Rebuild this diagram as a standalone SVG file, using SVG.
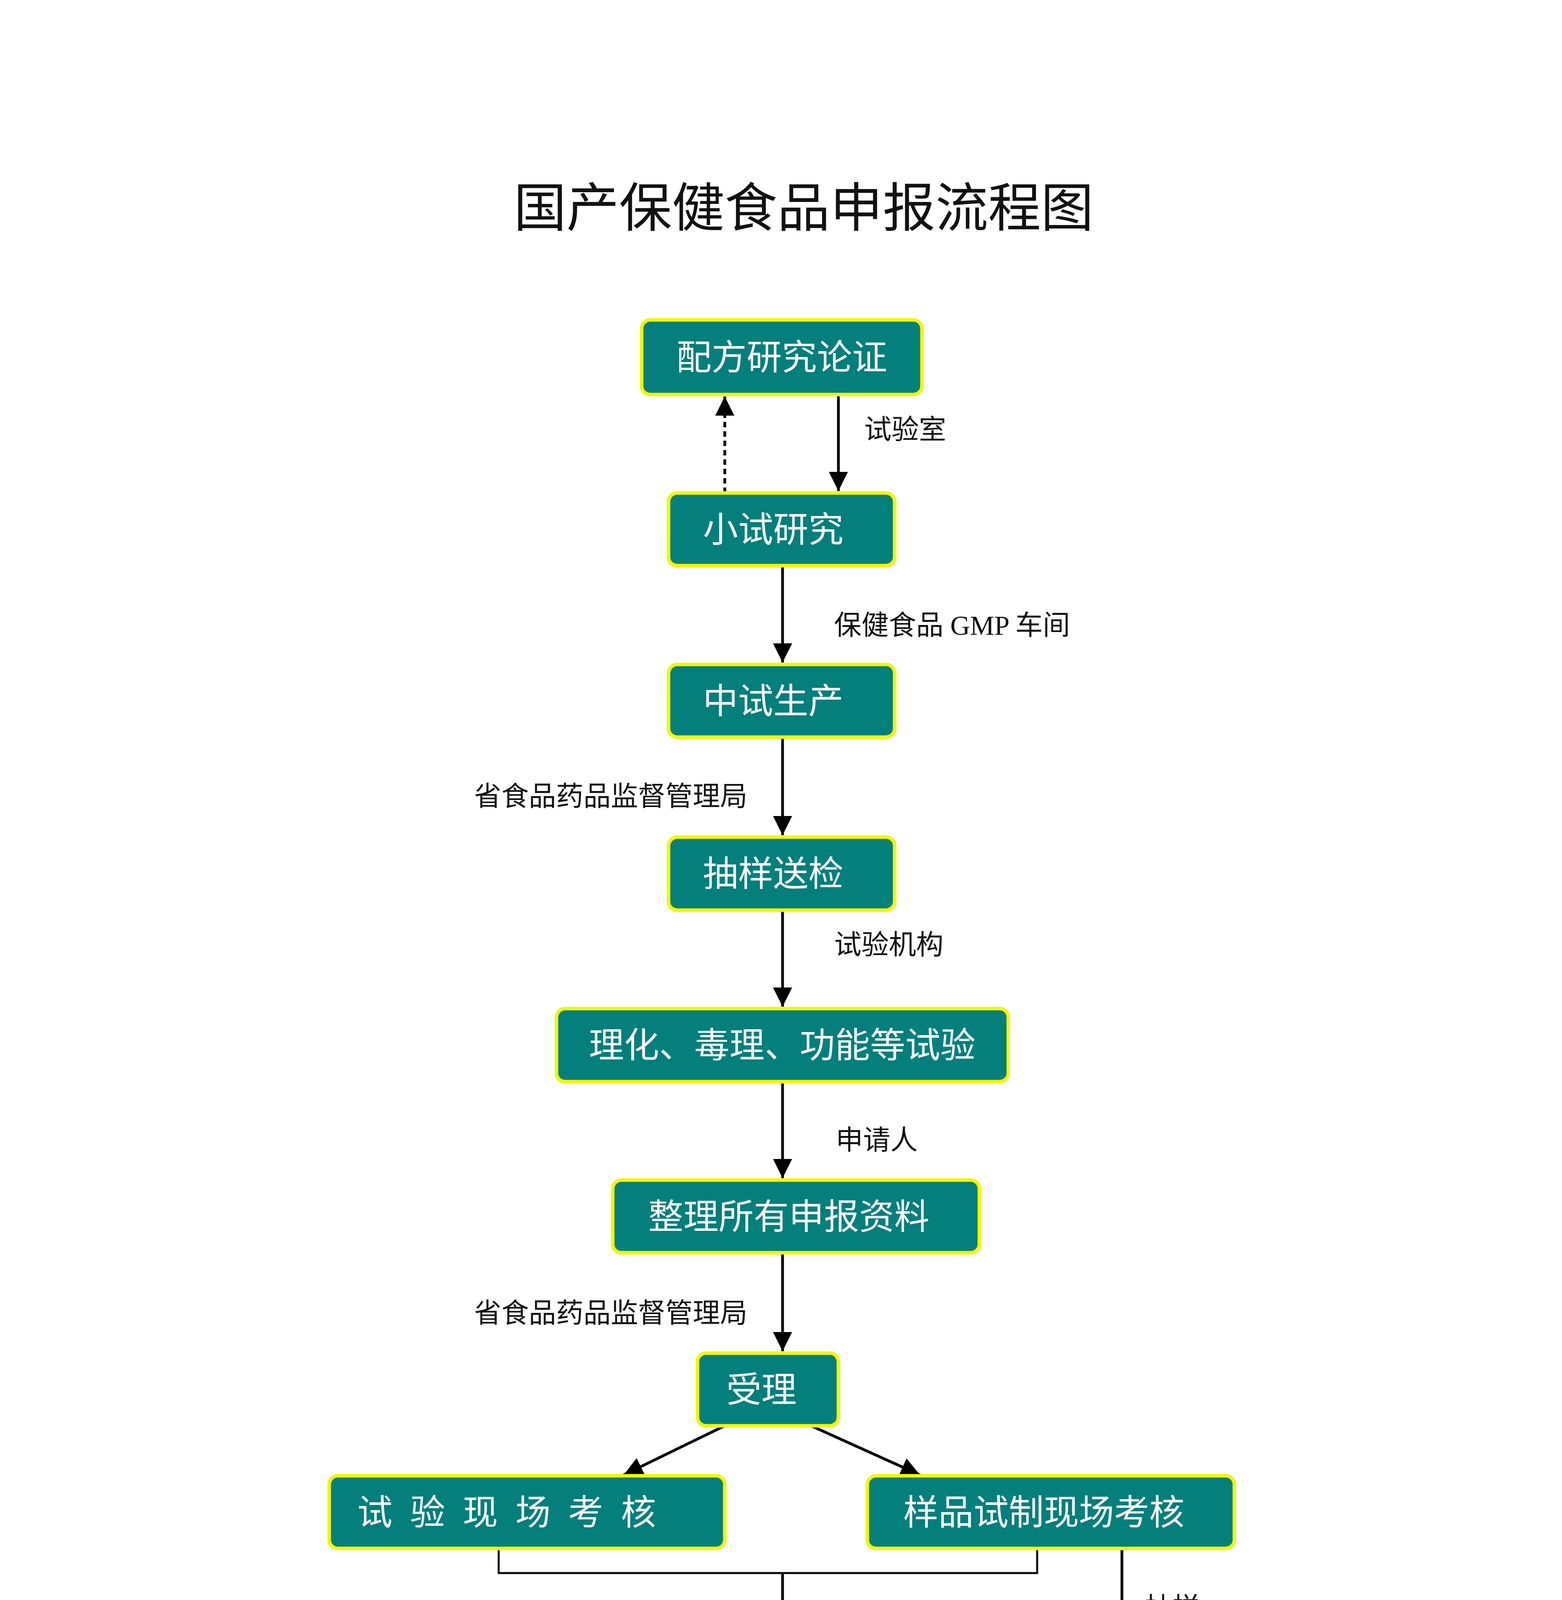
<svg xmlns="http://www.w3.org/2000/svg" width="4000" height="6091" viewBox="0 0 4000 6091">
<style>
.b{fill:#047f7b;stroke:#f5f500;stroke-width:9}
.t{font-family:"Noto Sans CJK SC",sans-serif;font-size:90px;fill:#fff;text-anchor:middle}
.l{font-family:"Liberation Serif","Noto Sans CJK SC",serif;font-size:70px;fill:#111}
.c{stroke:#000;stroke-width:7;fill:none}
.r{font-family:"Liberation Sans","Noto Sans CJK SC",sans-serif;font-size:100px;fill:#000;font-weight:bold}
</style>
<defs><marker id="a" viewBox="0 0 10 10" refX="10" refY="5" markerWidth="7" markerHeight="7" markerUnits="strokeWidth" orient="auto"><path d="M0,0L10,5L0,10z" fill="#000"/></marker></defs>
<rect width="4000" height="6091" fill="#fff"/>
<text x="2058" y="580" font-family="Noto Sans CJK SC,sans-serif" font-size="135" text-anchor="middle" fill="#111">国产保健食品申报流程图</text>
<g id="connectors">
<path class="c" d="M1856,1262V1015" stroke-dasharray="14,10" marker-end="url(#a)"/>
<path class="c" d="M2147,1010V1257" marker-end="url(#a)"/>
<path class="c" d="M2004,1448V1696" marker-end="url(#a)"/>
<path class="c" d="M2004,1887V2138" marker-end="url(#a)"/>
<path class="c" d="M2004,2330V2577" marker-end="url(#a)"/>
<path class="c" d="M2004,2769V3016" marker-end="url(#a)"/>
<path class="c" d="M2004,3207V3459" marker-end="url(#a)"/>
<path class="c" d="M1856,3650L1597,3776" marker-end="url(#a)"/>
<path class="c" d="M2077,3650L2356,3776" marker-end="url(#a)"/>
<path d="M1277,3964V4027H2656V3964" stroke="#000" stroke-width="5" fill="none"/>
<path class="c" d="M2004,4027V4278" marker-end="url(#a)"/>
<path class="c" d="M2873,3964V4278" marker-end="url(#a)"/>
<path class="c" d="M2586,4403H2296" marker-end="url(#a)"/>
<path class="c" d="M2004,4469V4717" marker-end="url(#a)"/>
<path class="c" d="M2004,4908V5152" marker-end="url(#a)"/>
<text class="l" x="2213" y="1124">试验室</text>
<text class="l" x="2136" y="1625">保健食品 GMP 车间</text>
<text class="l" x="1914" y="2063" text-anchor="end">省食品药品监督管理局</text>
<text class="l" x="2136" y="2443">试验机构</text>
<text class="l" x="2140" y="2943">申请人</text>
<text class="l" x="1914" y="3386" text-anchor="end">省食品药品监督管理局</text>
<text class="l" x="1840" y="4203" text-anchor="end">国家食品药品监督管理局</text>
<text class="l" x="2932" y="4140">抽样</text>
<text class="l" x="2066" y="4645">国家食品药品监督管理</text>
</g>
<g id="n1"><rect class="b" x="1643" y="819" width="718" height="191" rx="22"/><text class="t" x="2002" y="946">配方研究论证</text></g>
<g id="n2"><rect class="b" x="1712" y="1262" width="579" height="186" rx="22"/><text class="t" x="1980" y="1387">小试研究</text></g>
<g id="n3"><rect class="b" x="1712" y="1701" width="579" height="186" rx="22"/><text class="t" x="1980" y="1826">中试生产</text></g>
<g id="n4"><rect class="b" x="1712" y="2143" width="579" height="187" rx="22"/><text class="t" x="1980" y="2268">抽样送检</text></g>
<g id="n5"><rect class="b" x="1425" y="2582" width="1157" height="187" rx="22"/><text class="t" x="2003" y="2707">理化、毒理、功能等试验</text></g>
<g id="n6"><rect class="b" x="1569" y="3021" width="939" height="186" rx="22"/><text class="t" x="2020" y="3146">整理所有申报资料</text></g>
<g id="n7"><rect class="b" x="1786" y="3464" width="361" height="186" rx="22"/><text class="t" x="1950" y="3589">受理</text></g>
<g id="n8"><rect class="b" x="843" y="3778" width="1013" height="186" rx="22"/><text class="t" x="1320" y="3903" letter-spacing="45">试验现场考核</text></g>
<g id="n9"><rect class="b" x="2221" y="3778" width="940" height="186" rx="22"/><text class="t" x="2673" y="3903">样品试制现场考核</text></g>
<g id="n10"><rect class="b" x="1712" y="4283" width="579" height="186" rx="22"/><text class="t" x="1980" y="4408">技术审评</text></g>
<g id="n11"><rect class="b" x="2586" y="4283" width="575" height="186" rx="22"/><text class="t" x="2850" y="4408">复核检验</text></g>
<g id="n12"><rect class="b" x="1712" y="4722" width="579" height="186" rx="22"/><text class="t" x="1980" y="4847">行政审评</text></g>
<g id="n13"><ellipse cx="1996" cy="5378" rx="640" ry="212" fill="#047f7b" stroke="#f5f500" stroke-width="26"/><text class="t" x="1996" y="5345">获得国产保健食品</text><text class="t" x="1996" y="5470">批准证书</text></g>
<g id="info">
<text class="r" x="2563" y="5350">北京世纪中康医药科技有限公司</text>
<text class="r" x="2563" y="5527" xml:space="preserve">蒋先生  1860 1300 626</text>
<text class="r" x="2563" y="5705">Q Q：2851292013</text>
<text class="r" x="2563" y="5882">保健食品研发注册 批文转让</text>
</g>
</svg>
